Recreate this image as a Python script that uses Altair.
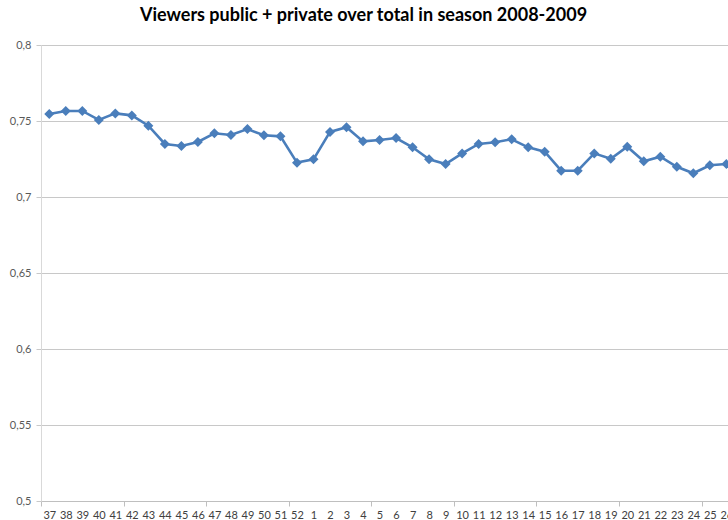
import altair as alt
import pandas as pd

weeks = [37, 38, 39, 40, 41, 42, 43, 44, 45, 46, 47, 48, 49, 50, 51, 52,
         1, 2, 3, 4, 5, 6, 7, 8, 9, 10, 11, 12, 13, 14, 15, 16, 17, 18, 19,
         20, 21, 22, 23, 24, 25, 26]
ratio = [0.7546, 0.7566, 0.7566, 0.7507, 0.7550, 0.7537, 0.7469, 0.7349,
         0.7336, 0.7362, 0.7419, 0.7408, 0.7447, 0.7406, 0.7399, 0.7226,
         0.7248, 0.7428, 0.7459, 0.7366, 0.7375, 0.7388, 0.7327, 0.7248,
         0.7217, 0.7287, 0.7349, 0.7360, 0.7380, 0.7327, 0.7298, 0.7173,
         0.7173, 0.7287, 0.7252, 0.7331, 0.7235, 0.7265, 0.7199, 0.7156,
         0.7209, 0.7217]
y_ticks = [0.5, 0.55, 0.6, 0.65, 0.7, 0.75, 0.8]

df = pd.DataFrame({"idx": list(range(len(weeks))), "week": weeks, "ratio": ratio})

labels_js = "[" + ",".join(f"'{w}'" for w in weeks) + "]"
x_values = list(range(len(weeks))) + [i - 0.5 for i in range(0, len(weeks), 5)]

font = "Lato"
color = "#4a7ebb"

chart = alt.Chart(df).mark_line(
    color=color, strokeWidth=2.6,
    point=alt.OverlayMarkDef(shape="diamond", size=100, filled=True, color=color, opacity=1),
).encode(
    x=alt.X("idx:Q", scale=alt.Scale(domain=[-0.5, 41.1], nice=False, zero=False),
            axis=alt.Axis(title=None, values=x_values, grid=False,
                          labelExpr=f"datum.value % 1 == 0 ? {labels_js}[datum.value] : ''",
                          tickOpacity={"condition": {"test": "datum.value % 1 != 0", "value": 1}, "value": 0},
                          tickSize=5, tickColor="#bfbfbf", domainColor="#bfbfbf",
                          labelPadding=3, labelFontSize=11, labelFont=font, labelColor="#404040",
                          labelOverlap=False, labelFlush=False, labelBound=False)),
    y=alt.Y("ratio:Q", scale=alt.Scale(domain=[0.5, 0.8], nice=False, zero=False),
            axis=alt.Axis(title=None, values=y_ticks, format=".2~f",
                          labelExpr="replace(datum.label, '.', ',')",
                          grid=True, gridColor="#c8c8c8", tickColor="#c8c8c8", tickSize=5,
                          domainColor="#d9d9d9", labelPadding=5, labelFontSize=11,
                          labelFont=font, labelColor="#595959")),
).properties(
    width=687, height=456,
    padding={"left": 41, "top": 45, "right": 0, "bottom": 19},
    autosize="none",
    title=alt.TitleParams("Viewers public + private over total in season 2008-2009",
                          font=font, fontSize=18, fontWeight="bold", color="#000000",
                          anchor="middle", dx=-21, offset=14),
).configure_view(stroke=None).configure(background="white")

chart.save("out.html", embed_options={"renderer": "svg", "actions": False})
